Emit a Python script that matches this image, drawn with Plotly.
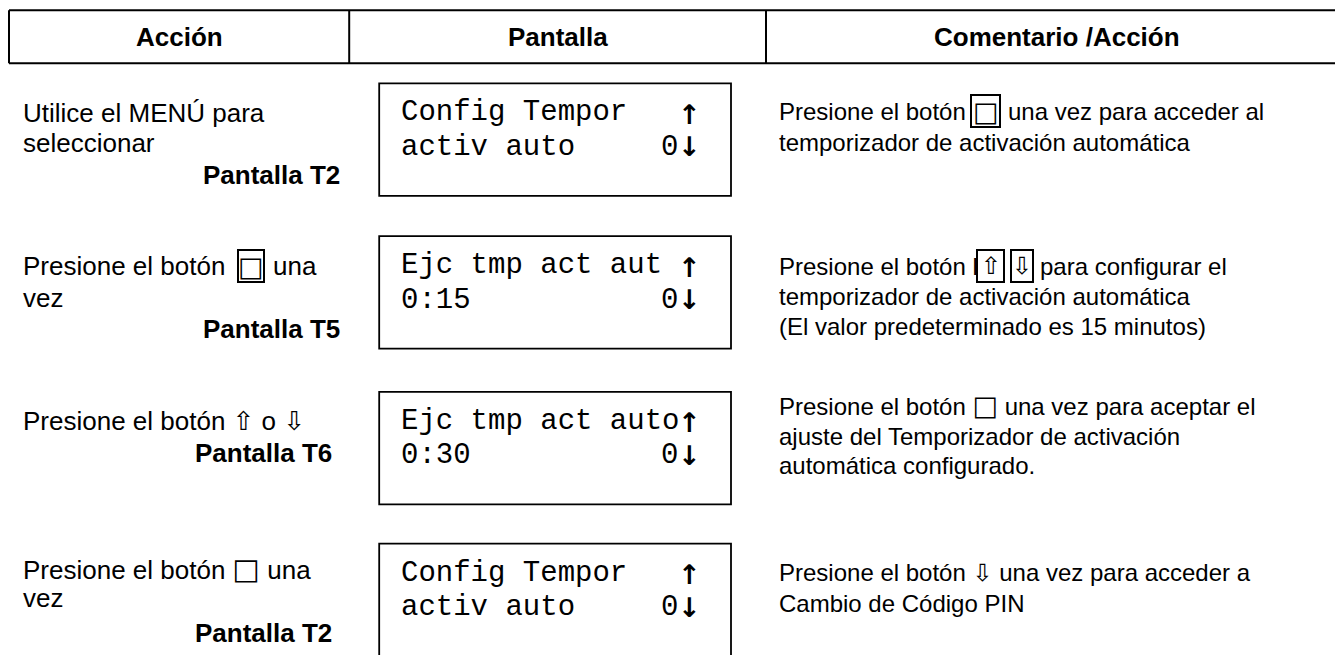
import re
import plotly.graph_objects as go

# ---------------- content ----------------
headers = ["Acción", "Pantalla", "Comentario /Acción"]
screen_labels = ["Pantalla T2", "Pantalla T5", "Pantalla T6", "Pantalla T2"]
display_top = ["Config Tempor", "Ejc tmp act aut", "Ejc tmp act auto", "Config Tempor"]
display_bottom = ["activ auto", "0:15", "0:30", "activ auto"]
display_value = ["0", "0", "0", "0"]
arrow_up, arrow_down = "↑", "↓"
action_lines = [
    ["Utilice el MENÚ para", "seleccionar"],
    ["Presione el botón {□} una", "vez"],
    ["Presione el botón ⇧ o ⇩"],
    ["Presione el botón □ una", "vez"],
]
comment_lines = [
    ["Presione el botón {□} una vez para acceder al",
     "temporizador de activación automática"],
    ["Presione el botón l{⇧} {⇩} para configurar el",
     "temporizador de activación automática",
     "(El valor predeterminado es 15 minutos)"],
    ["Presione el botón □ una vez para aceptar el",
     "ajuste del Temporizador de activación",
     "automática configurado."],
    ["Presione el botón ⇩ una vez para acceder a",
     "Cambio de Código PIN"],
]

# ---------------- layout (pixel positions) ----------------
W, H = 1343, 655
OFF = 8  # page body margin
SANS = "Liberation Sans, Arial, sans-serif"
MONO = "Liberation Mono, Courier New, monospace"
SYM = "DejaVu Sans"
FS_C, FS_A, FS_B, FS_M = 24, 26, 26, 29

head_top, head_bot = 10.3, 63.3
col_x = [9, 349.2, 766, 1360]
disp_x0, disp_x1 = 379.2, 731
disp_top = [83.4, 236.2, 391.8, 543.6]
disp_h = 112.5
disp_text_x = 401
disp_val_x = 677.5
arrow_x = 689
action_x = 23
comment_x = 779
action_y = [[113, 142.5], [266, 297.5], [421], [569, 598]]
label_y = [175, 329, 452.5, 632.5]
label_right = [340, 340, 332, 332]
comment_y = [[111, 142], [266, 296, 326], [405, 436, 465], [573, 603]]
seg_layout = {
    ("a", 1, 0): [(23, None), (251, 26), (273, None)],
    ("c", 0, 0): [(779, None), (985.5, 29), (1008, None)],
    ("c", 1, 0): [(779, None), (990.5, 27), (1022, 22), (1040, None)],
}
BOX_H = 32
glyph_size = {"□": 27, "⇧": 24, "⇩": 24}

fig = go.Figure()
fig.add_trace(go.Scatter(x=[0, W], y=[0, H], mode="markers",
                         marker=dict(opacity=0), hoverinfo="skip", showlegend=False))

shapes = []
annos = []


def line(x0, y0, x1, y1, w=2):
    shapes.append(dict(type="line", x0=x0, y0=y0, x1=x1, y1=y1,
                       line=dict(color="black", width=w), layer="above"))


def text(x, y, s, size, bold=False, family=SANS, anchor="left"):
    if bold:
        s = "<b>" + s + "</b>"
    annos.append(dict(x=x, y=y, text=s, showarrow=False, xanchor=anchor,
                      yanchor="middle", font=dict(family=family, size=size, color="black"),
                      borderpad=0, borderwidth=0))


def sym_spans(s, size):
    out = ""
    for ch in s:
        if ch in glyph_size:
            out += '<span style="font-family:DejaVu Sans;font-size:%dpx">%s</span>' % (
                round(glyph_size[ch] * size / 24), ch)
        else:
            out += ch
    return out


# header
line(col_x[0], head_top, col_x[3], head_top)
line(col_x[0], head_bot, col_x[3], head_bot)
for cx in col_x[:3]:
    line(cx, head_top, cx, head_bot)
head_cx = [(col_x[0] + col_x[1]) / 2, (col_x[1] + col_x[2]) / 2, (col_x[2] + 1348) / 2]
for i, h in enumerate(headers):
    text(head_cx[i], 37, h, size=FS_B, bold=True, anchor="center")

# display boxes
for i in range(4):
    t = disp_top[i]
    shapes.append(dict(type="rect", x0=disp_x0, x1=disp_x1, y0=t, y1=t + disp_h,
                       line=dict(color="black", width=1.8)))
    text(disp_text_x, t + 29.5, display_top[i], size=FS_M, family=MONO)
    text(disp_text_x, t + 64, display_bottom[i], size=FS_M, family=MONO)
    text(disp_val_x, t + 64, display_value[i], size=FS_M, family=MONO, anchor="right")
    text(arrow_x, t + 31, arrow_up, size=27, bold=True, family=SYM, anchor="center")
    text(arrow_x, t + 63.5, arrow_down, size=27, bold=True, family=SYM, anchor="center")


def render_lines(kind, r, lines, ys, x0, size):
    for k, (s, y) in enumerate(zip(lines, ys)):
        key = (kind, r, k)
        if key in seg_layout:
            segs = [p.strip() for p in re.split(r"(\{.\})", s) if p.strip()]
            for seg, (sx, bw) in zip(segs, seg_layout[key]):
                if seg.startswith("{"):
                    glyph = seg[1:-1]
                    shapes.append(dict(type="rect", x0=sx - bw / 2, x1=sx + bw / 2,
                                       y0=y - BOX_H / 2, y1=y + BOX_H / 2,
                                       line=dict(color="black", width=2)))
                    text(sx, y, glyph, size=glyph_size[glyph], family=SYM, anchor="center")
                else:
                    text(sx, y, sym_spans(seg, size), size=size)
        else:
            text(x0, y, sym_spans(s, size), size=size)


for r in range(4):
    render_lines("a", r, action_lines[r], action_y[r], action_x, FS_A)
    text(label_right[r], label_y[r], screen_labels[r], size=FS_B, bold=True, anchor="right")
    render_lines("c", r, comment_lines[r], comment_y[r], comment_x, FS_C)

fig.update_layout(
    width=W, height=H, margin=dict(l=0, r=0, t=0, b=0),
    paper_bgcolor="white", plot_bgcolor="white",
    xaxis=dict(range=[OFF, W + OFF], visible=False, fixedrange=True),
    yaxis=dict(range=[H + OFF, OFF], visible=False, fixedrange=True),
    shapes=shapes, annotations=annos, showlegend=False,
)
fig.write_html("out.html")
